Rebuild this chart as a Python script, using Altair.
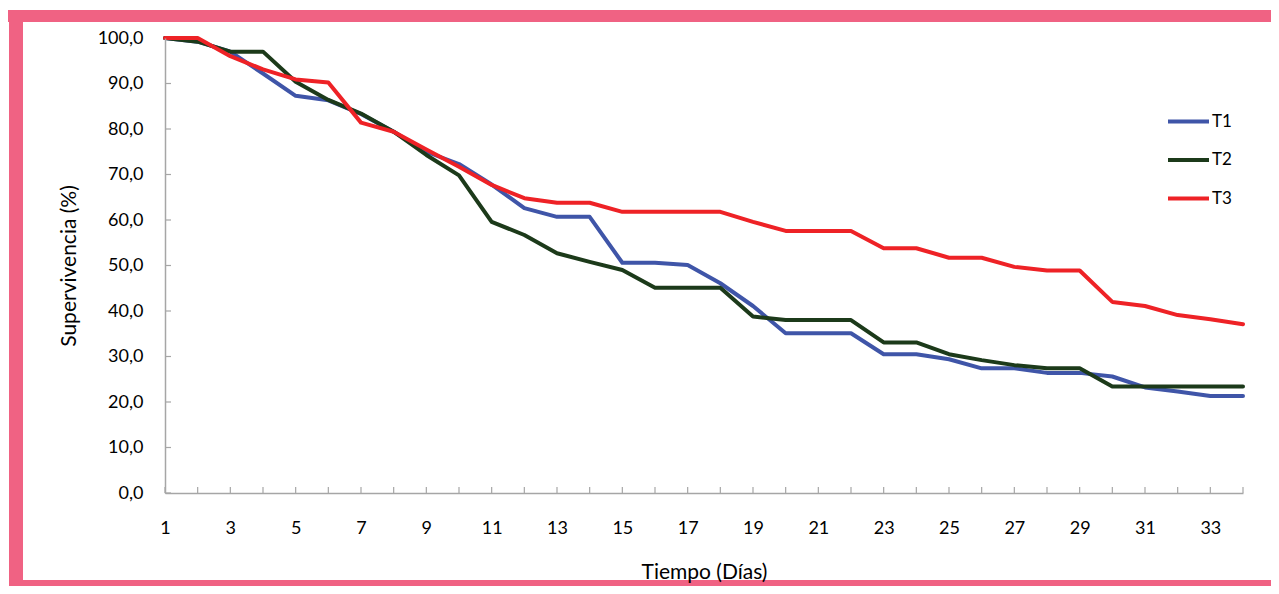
import altair as alt
import pandas as pd

dias = list(range(1, 35))
series = ["T1", "T2", "T3"]
t1 = [100.0, 99.2, 97.0, 92.2, 87.3, 86.3, 83.3, 79.4, 75.0, 72.3,
      67.8, 62.6, 60.7, 60.7, 50.6, 50.6, 50.1, 46.1, 41.1, 35.1,
      35.1, 35.1, 30.5, 30.5, 29.4, 27.4, 27.4, 26.4, 26.4, 25.6,
      23.2, 22.3, 21.3, 21.3]
t2 = [100.0, 99.2, 97.0, 97.0, 90.4, 86.4, 83.4, 79.4, 74.3, 69.8,
      59.6, 56.7, 52.7, 50.8, 49.0, 45.1, 45.1, 45.1, 38.8, 38.0,
      38.0, 38.0, 33.1, 33.1, 30.5, 29.2, 28.1, 27.4, 27.4, 23.4,
      23.4, 23.4, 23.4, 23.4]
t3 = [100.0, 100.0, 96.0, 93.1, 90.9, 90.2, 81.4, 79.4, 75.5, 71.7,
      67.7, 64.8, 63.8, 63.8, 61.8, 61.8, 61.8, 61.8, 59.6, 57.6,
      57.6, 57.6, 53.8, 53.8, 51.7, 51.7, 49.7, 48.9, 48.9, 42.0,
      41.1, 39.1, 38.2, 37.1]
y_ticks = [0, 10, 20, 30, 40, 50, 60, 70, 80, 90, 100]
x_labels = list(range(1, 34, 2))
colores = ["#3F55A8", "#1C3A1A", "#EE2226"]

rows = []
for name, vals in zip(series, [t1, t2, t3]):
    for d, v in zip(dias, vals):
        rows.append({"dia": d, "valor": v, "serie": name})
df = pd.DataFrame(rows)

W, H = 1078, 455
FONT = "Lato"
GRAY = "#A6A6A6"
PINK = "#F06283"

xscale = alt.Scale(domain=[1, 34], nice=False, zero=False)
yscale = alt.Scale(domain=[0, 100], nice=False)

xaxis = alt.Axis(values=x_labels, title="Tiempo (Días)", ticks=False, tickSize=0,
                 labelPadding=26, titlePadding=24, grid=False, labelFlush=False,
                 domainColor=GRAY, domainWidth=1.5, labelFontSize=18,
                 titleFontSize=21, labelFont=FONT, titleFont=FONT,
                 titleFontWeight="normal", labelColor="#000", titleColor="#000", zindex=1)
yaxis = alt.Axis(values=y_ticks, title="Supervivencia (%)", ticks=False, tickSize=0,
                 labelExpr="replace(format(datum.value, '.1f'), '.', ',')",
                 labelPadding=22, titlePadding=18, grid=False, labelFlush=False,
                 domainColor=GRAY, domainWidth=1.5, labelFontSize=18,
                 titleFontSize=21, labelFont=FONT, titleFont=FONT,
                 titleFontWeight="normal", labelColor="#000", titleColor="#000", zindex=1)

lines = alt.Chart(df).mark_line(strokeWidth=4, strokeJoin="round", strokeCap="round").encode(
    x=alt.X("dia:Q", scale=xscale, axis=xaxis, title="Tiempo (Días)"),
    y=alt.Y("valor:Q", scale=yscale, axis=yaxis, title="Supervivencia (%)"),
    color=alt.Color("serie:N", scale=alt.Scale(domain=series, range=colores),
                    legend=alt.Legend(title=None, orient="none", legendX=1001, legendY=61,
                                      symbolType="stroke", symbolSize=1681, symbolStrokeWidth=4,
                                      labelFontSize=17, labelFont=FONT, labelColor="#000",
                                      labelOffset=1, rowPadding=7.5, padding=0, zindex=1)),
)

xt = alt.Chart(pd.DataFrame({"dia": dias})).mark_rule(color=GRAY, strokeWidth=1.2).encode(
    x=alt.X("dia:Q", scale=xscale, axis=xaxis, title="Tiempo (Días)"),
    y=alt.value(H), y2=alt.value(H - 6),
)
yt = alt.Chart(pd.DataFrame({"valor": y_ticks})).mark_rule(color=GRAY, strokeWidth=1.2).encode(
    y=alt.Y("valor:Q", scale=yscale, axis=yaxis, title="Supervivencia (%)"),
    x=alt.value(0), x2=alt.value(6),
)

one = pd.DataFrame({"k": [0]})
top_band = alt.Chart(one).mark_rect(color=PINK).encode(
    x=alt.value(-157), x2=alt.value(1106), y=alt.value(-28), y2=alt.value(-16))
left_band = alt.Chart(one).mark_rect(color=PINK).encode(
    x=alt.value(-156), x2=alt.value(-142), y=alt.value(-28), y2=alt.value(548))
bottom_band = alt.Chart(one).mark_rect(color=PINK).encode(
    x=alt.value(-156), x2=alt.value(1106), y=alt.value(542), y2=alt.value(548))

chart = alt.layer(top_band, left_band, bottom_band, xt, yt, lines).properties(
    width=W, height=H,
    autosize=alt.AutoSizeParams(type="none"),
    padding={"left": 157, "top": 30, "right": 28, "bottom": 93},
    background="white",
).configure_view(stroke=None)

chart.save("out.html", embed_options={"renderer": "svg", "actions": False})
